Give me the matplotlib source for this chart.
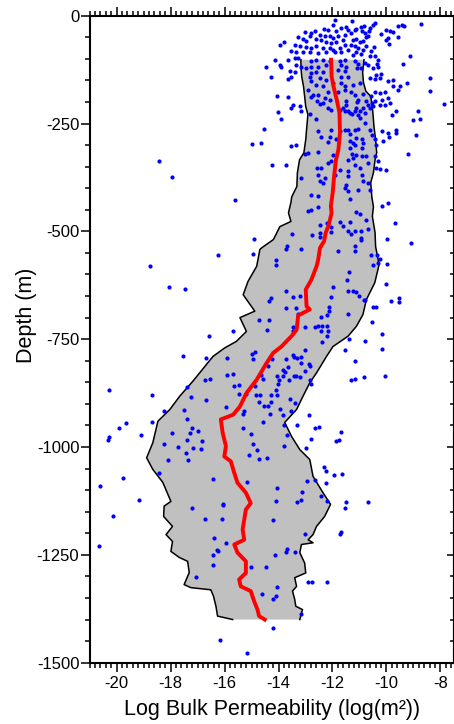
import numpy as np
import matplotlib
matplotlib.use("Agg")
import matplotlib.pyplot as plt
from matplotlib.ticker import MultipleLocator

plt.rcParams['font.family'] = ['Liberation Sans', 'DejaVu Sans']
plt.rcParams['axes.unicode_minus'] = False

# envelope of the log permeability band (left edge, right edge), depth in m
left_x = [-13.17, -13.17, -13.14, -13.07, -13.03, -12.99, -12.91, -12.95, -12.99, -13.06,
          -13.22, -13.30, -13.32, -13.51, -13.54, -13.63, -13.54, -13.95, -14.06, -14.19,
          -14.62, -14.69, -14.81, -15.13, -15.31, -14.88, -15.43, -15.19, -15.56, -15.99,
          -16.43, -16.91, -17.17, -17.66, -18.03, -18.47, -18.66, -18.89, -18.66, -18.29,
          -17.99, -18.24, -18.26, -17.93, -18.17, -17.93, -17.99, -17.68, -17.37, -17.31,
          -17.50, -17.25, -16.51, -16.41, -16.32, -16.26, -15.70]
left_d = [-102, -118, -141, -165, -188, -211, -229, -257, -287, -318,
          -334, -364, -396, -420, -433, -457, -477, -489, -503, -519,
          -538, -542, -581, -616, -647, -685, -700, -732, -755, -770,
          -790, -827, -847, -882, -913, -940, -990, -1025, -1052, -1082,
          -1126, -1137, -1161, -1184, -1203, -1219, -1242, -1256, -1265, -1291,
          -1319, -1326, -1331, -1346, -1369, -1392, -1400]

right_x = [-10.83, -10.88, -10.85, -10.76, -10.58, -10.51, -10.46, -10.40, -10.36, -10.42,
           -10.48, -10.58, -10.54, -10.48, -10.52, -10.42, -10.40, -10.27, -10.43, -10.74,
           -10.87, -11.11, -11.42, -11.98, -12.22, -12.59, -12.84, -13.09, -13.33, -13.77,
           -13.52, -13.21, -12.84, -12.72, -12.35, -12.07, -12.29, -12.59, -12.72, -12.90,
           -12.72, -13.15, -13.21, -13.03, -12.99, -13.40, -13.33, -13.48, -13.40, -13.36,
           -13.11, -13.21]
right_d = [-102, -132, -155, -175, -187, -218, -257, -287, -318, -334,
           -364, -387, -420, -443, -465, -503, -535, -577, -619, -658,
           -693, -720, -743, -767, -790, -828, -851, -882, -913, -943,
           -975, -1006, -1029, -1068, -1106, -1133, -1161, -1184, -1203, -1215,
           -1222, -1226, -1245, -1269, -1292, -1303, -1323, -1334, -1353, -1369,
           -1377, -1400]

# median
med_x = [-12.05, -12.03, -11.96, -11.84, -11.74, -11.72, -11.78, -11.87, -11.94, -11.99,
         -12.06, -12.03, -12.15, -12.25, -12.31, -12.46, -12.53, -12.59, -12.78, -12.99,
         -12.96, -12.84, -13.27, -13.33, -13.52, -13.89, -14.20, -14.44, -14.81, -15.19,
         -15.43, -15.68, -16.14, -16.07, -15.95, -16.01, -15.77, -15.64, -15.52, -15.21,
         -15.03, -15.21, -15.27, -15.33, -15.27, -15.64, -15.52, -15.21, -15.21, -15.46,
         -15.40, -15.03, -14.90, -14.78, -14.72, -14.51]
med_d = [-102, -141, -164, -195, -225, -271, -311, -334, -373, -410,
         -442, -457, -488, -503, -523, -538, -566, -581, -612, -635,
         -674, -681, -695, -728, -743, -767, -782, -805, -844, -875,
         -906, -925, -936, -967, -998, -1022, -1033, -1060, -1083, -1106,
         -1130, -1145, -1168, -1191, -1215, -1226, -1245, -1265, -1292, -1307,
         -1323, -1334, -1358, -1377, -1392, -1400]

# individual measurements (log k, depth)
samples = [
    (-11.92, -11), (-11.98, -21), (-12.31, -30), (-12.16, -33), (-11.67, -29), (-11.48, -27),
    (-11.42, -33), (-11.85, -36), (-12.66, -35), (-12.78, -40), (-13.03, -38), (-12.84, -48),
    (-12.47, -44), (-12.29, -46), (-12.10, -48), (-11.98, -52), (-11.79, -48), (-11.55, -44),
    (-13.27, -50), (-13.09, -53), (-12.97, -58), (-12.60, -53), (-12.41, -56), (-12.23, -60),
    (-12.04, -63), (-11.85, -60), (-11.61, -56), (-13.95, -67), (-13.79, -61), (-13.40, -69),
    (-13.21, -71), (-12.97, -73), (-12.78, -75), (-12.60, -71), (-12.35, -75), (-12.10, -75),
    (-11.98, -79), (-11.73, -75), (-11.55, -69), (-13.52, -81), (-13.34, -83), (-13.09, -84),
    (-12.84, -83), (-12.53, -87), (-12.23, -84), (-11.92, -84), (-11.67, -83), (-11.42, -79),
    (-14.14, -102), (-13.65, -102), (-13.40, -98), (-13.27, -97), (-12.78, -106), (-12.60, -102),
    (-12.35, -102), (-12.10, -106), (-11.73, -106), (-11.55, -102), (-13.95, -114), (-13.89, -120),
    (-13.34, -114), (-13.15, -118), (-12.97, -121), (-12.78, -120), (-12.53, -118), (-12.23, -114),
    (-11.67, -114), (-11.48, -118), (-14.48, -120), (-13.58, -128), (-13.40, -131), (-12.78, -133),
    (-12.60, -131), (-12.35, -131), (-11.79, -125), (-11.55, -129), (-14.26, -143), (-13.65, -147),
    (-13.52, -141), (-12.84, -143), (-12.47, -145), (-12.23, -148), (-11.67, -141), (-11.42, -141),
    (-12.78, -152), (-12.60, -160), (-12.35, -164), (-11.98, -156), (-11.67, -156), (-11.55, -162),
    (-12.90, -172), (-12.72, -183), (-12.53, -183), (-12.16, -176), (-11.79, -176), (-11.55, -172),
    (-14.05, -185), (-13.65, -189), (-12.78, -189), (-12.29, -191),
    (-11.26, -13), (-11.17, -33), (-11.11, -30), (-10.93, -27), (-10.84, -25), (-10.89, -35),
    (-10.80, -40), (-10.64, -35), (-10.59, -29), (-10.50, -21), (-10.43, -17), (-10.00, -33),
    (-9.88, -36), (-9.76, -38), (-9.57, -25), (-9.41, -21), (-9.36, -25), (-8.71, -19),
    (-11.30, -40), (-11.24, -56), (-11.11, -53), (-10.99, -60), (-10.87, -58), (-10.74, -50),
    (-10.68, -46), (-10.19, -43), (-10.03, -56), (-9.94, -52), (-9.90, -66), (-9.57, -50),
    (-11.30, -67), (-11.17, -71), (-11.05, -75), (-10.87, -79), (-10.74, -71), (-10.56, -81),
    (-10.47, -73), (-11.11, -83), (-11.24, -90), (-10.93, -89), (-10.62, -94), (-10.43, -94),
    (-10.31, -102), (-10.35, -112), (-9.14, -94), (-9.38, -112), (-11.17, -106), (-11.05, -112),
    (-10.80, -110), (-10.68, -114), (-10.50, -121), (-10.31, -118), (-11.09, -121), (-10.93, -121),
    (-10.37, -137), (-10.19, -135), (-10.62, -145), (-10.43, -146), (-10.25, -145), (-9.94, -151),
    (-9.76, -148), (-9.24, -156), (-9.51, -162), (-9.76, -164), (-8.40, -145), (-8.40, -174),
    (-9.57, -172), (-10.43, -177), (-10.25, -179), (-10.06, -177), (-9.94, -191), (-10.56, -187),
    (-11.24, -160), (-10.99, -156), (-11.30, -176), (-11.17, -183), (-10.87, -182), (-7.87, -204),
    (-14.01, -223), (-13.92, -239), (-14.54, -262), (-15.00, -297), (-14.65, -295), (-14.23, -345),
    (-13.73, -347), (-13.55, -301), (-13.36, -299), (-13.52, -214), (-13.46, -206), (-13.21, -210),
    (-13.15, -222), (-12.84, -229), (-12.62, -239), (-12.57, -197), (-12.47, -205), (-12.34, -202),
    (-12.10, -195), (-12.04, -218), (-12.16, -214), (-11.73, -218), (-11.60, -214), (-11.54, -222),
    (-11.50, -206), (-11.42, -220), (-11.36, -226), (-11.26, -229), (-11.17, -222), (-11.11, -214),
    (-11.05, -231), (-10.99, -237), (-10.96, -222), (-10.86, -213), (-10.80, -226), (-10.74, -197),
    (-10.68, -206), (-10.62, -214), (-10.55, -202), (-10.49, -210), (-10.43, -197), (-11.48, -197),
    (-11.05, -195), (-11.09, -200), (-10.25, -206), (-10.18, -195), (-10.06, -208), (-9.87, -202),
    (-9.81, -231), (-9.63, -222), (-9.01, -241), (-8.82, -220), (-8.76, -239), (-10.18, -268),
    (-10.12, -290), (-9.94, -272), (-9.90, -282), (-9.65, -264), (-9.63, -272), (-8.89, -276),
    (-9.20, -321), (-10.25, -355), (-10.02, -357), (-9.94, -434), (-10.15, -442), (-9.69, -481),
    (-12.53, -267), (-12.41, -282), (-12.16, -293), (-12.10, -282), (-12.04, -264), (-11.85, -285),
    (-11.73, -268), (-11.54, -264), (-11.42, -264), (-11.36, -274), (-11.17, -264), (-11.05, -262),
    (-11.14, -284), (-11.36, -291), (-11.23, -294), (-11.17, -299), (-10.92, -287), (-10.92, -307),
    (-10.86, -295), (-10.80, -249), (-10.62, -264), (-10.55, -276), (-10.43, -287), (-10.37, -299),
    (-11.36, -307), (-11.29, -321), (-11.23, -330), (-11.42, -334), (-11.17, -345), (-11.11, -324),
    (-10.92, -326), (-10.74, -325), (-10.68, -342), (-10.43, -326), (-10.31, -336), (-12.53, -316),
    (-13.02, -321), (-12.90, -318), (-11.97, -322), (-12.04, -336), (-12.59, -352), (-12.41, -353),
    (-12.16, -342), (-11.73, -357), (-11.42, -359), (-10.99, -352), (-10.92, -369), (-10.86, -383),
    (-10.68, -388), (-10.62, -403), (-10.37, -353), (-12.53, -369), (-12.47, -384), (-12.34, -388),
    (-12.28, -376), (-11.91, -369), (-11.42, -372), (-11.05, -403), (-11.48, -392), (-11.54, -400),
    (-11.42, -407), (-11.36, -424), (-12.78, -415), (-12.53, -417), (-13.15, -376), (-12.90, -452),
    (-12.78, -450), (-12.53, -444), (-12.47, -485), (-12.22, -481), (-11.73, -478), (-11.36, -478),
    (-11.11, -454), (-10.99, -460), (-10.74, -473), (-10.68, -495), (-11.60, -488), (-12.04, -491),
    (-18.44, -338), (-17.94, -375), (-15.62, -427), (-16.23, -555), (-18.75, -581), (-18.07, -630),
    (-17.47, -634), (-16.58, -742), (-15.68, -732), (-17.54, -790), (-16.69, -794), (-15.91, -794),
    (-20.27, -867), (-18.70, -880), (-17.38, -860), (-16.72, -844), (-16.53, -842), (-15.91, -833),
    (-15.67, -831), (-15.64, -858), (-15.46, -857), (-17.25, -884), (-16.67, -890), (-15.46, -877),
    (-15.21, -877), (-15.95, -907), (-15.33, -924), (-15.27, -916), (-17.51, -914), (-18.25, -917),
    (-17.41, -935), (-19.64, -945), (-18.70, -941), (-19.90, -957), (-17.22, -956), (-15.30, -957),
    (-14.92, -517), (-14.94, -552), (-13.50, -505), (-12.74, -508), (-12.47, -504), (-12.45, -513),
    (-12.06, -502), (-11.42, -500), (-11.30, -505), (-11.17, -500), (-10.95, -515), (-10.93, -521),
    (-10.93, -498), (-13.68, -535), (-13.73, -542), (-13.17, -541), (-14.08, -566), (-14.08, -577),
    (-11.79, -546), (-11.17, -546), (-11.15, -535), (-10.56, -554), (-10.35, -554), (-10.25, -564),
    (-10.31, -573), (-10.50, -577), (-9.96, -576), (-9.96, -518), (-9.10, -527), (-11.38, -595),
    (-11.45, -613), (-11.98, -630), (-11.41, -639), (-11.24, -639), (-11.11, -641), (-11.01, -651),
    (-10.83, -658), (-10.80, -660), (-10.00, -622), (-9.82, -661), (-9.53, -654), (-9.53, -664),
    (-13.71, -639), (-13.46, -652), (-13.21, -651), (-14.29, -654), (-14.35, -661), (-13.73, -678),
    (-13.34, -678), (-13.27, -691), (-12.06, -652), (-12.12, -675), (-12.12, -684), (-12.22, -693),
    (-12.42, -699), (-11.41, -691), (-10.50, -676), (-10.37, -676), (-10.55, -711), (-14.71, -705),
    (-14.36, -705), (-14.42, -729), (-13.00, -722), (-12.63, -722), (-12.52, -719), (-12.37, -720),
    (-12.20, -720), (-12.43, -730), (-12.16, -732), (-12.22, -742), (-12.38, -756), (-13.46, -722),
    (-13.48, -732), (-11.38, -750), (-10.80, -755), (-10.15, -738), (-10.16, -773), (-11.55, -776),
    (-11.17, -801), (-11.33, -844), (-11.17, -842), (-10.83, -838), (-10.05, -836), (-15.00, -784),
    (-14.89, -780), (-14.94, -797), (-14.24, -797), (-13.71, -795), (-13.46, -787), (-13.43, -792),
    (-13.31, -794), (-13.15, -792), (-13.01, -774), (-13.15, -805), (-13.64, -814), (-13.83, -821),
    (-13.77, -825), (-14.04, -835), (-13.83, -836), (-13.61, -844), (-13.42, -835), (-13.34, -836),
    (-13.21, -838), (-13.03, -823), (-12.87, -808), (-12.84, -813), (-13.98, -844), (-14.01, -853),
    (-14.08, -867), (-14.05, -879), (-14.26, -879), (-14.69, -879), (-14.82, -879), (-14.88, -858),
    (-14.57, -842), (-14.66, -834), (-14.38, -811), (-12.82, -844), (-12.78, -855), (-13.58, -889),
    (-13.40, -898), (-13.95, -912), (-13.85, -925), (-13.52, -917), (-14.26, -896), (-14.39, -906),
    (-14.32, -923), (-14.53, -904), (-14.72, -896), (-12.88, -925),
    (-19.10, -971), (-20.27, -977), (-20.33, -983), (-17.95, -967), (-17.28, -967), (-16.97, -964),
    (-17.41, -984), (-16.85, -987), (-18.26, -992), (-17.74, -1000), (-17.17, -1002), (-16.88, -1005),
    (-17.43, -1013), (-18.11, -1031), (-17.35, -1031), (-18.42, -1060), (-19.78, -1072), (-20.60, -1090),
    (-19.16, -1122), (-16.44, -1073), (-15.15, -1081), (-17.22, -1141), (-16.05, -1131), (-16.07, -1134),
    (-16.73, -1166), (-16.11, -1167), (-20.14, -1161), (-20.64, -1230), (-16.41, -1212), (-15.95, -1222),
    (-16.28, -1238), (-16.23, -1242), (-16.42, -1251), (-16.42, -1274), (-17.06, -1301), (-15.02, -1278),
    (-14.47, -1278), (-14.62, -1340), (-16.16, -1448), (-15.15, -1478), (-15.02, -969), (-14.93, -994),
    (-14.80, -1006), (-15.11, -1018), (-14.72, -1027), (-14.41, -1025), (-14.59, -943),
    (-13.80, -950), (-13.30, -948), (-12.65, -956), (-12.49, -954), (-11.69, -965), (-11.85, -985),
    (-11.76, -983), (-12.81, -981), (-13.68, -971), (-13.79, -997), (-12.99, -1002), (-12.32, -1047),
    (-12.25, -1056), (-11.94, -1066), (-11.63, -1062), (-12.63, -1077), (-12.25, -1083), (-12.96, -1079),
    (-14.05, -1095), (-13.12, -1105), (-12.44, -1114), (-12.20, -1126), (-11.51, -1128), (-10.68, -1128),
    (-11.55, -1141), (-14.10, -1124), (-13.31, -1128), (-13.18, -1122), (-14.20, -1170), (-13.00, -1201),
    (-11.73, -1201), (-11.67, -1198), (-13.67, -1236), (-13.73, -1244), (-13.37, -1244), (-14.13, -1251),
    (-12.90, -1314), (-12.75, -1314), (-12.22, -1314), (-14.07, -1325), (-14.10, -1345), (-14.22, -1352),
    (-13.17, -1386), (-14.20, -1420),
]
pts = np.array(samples)

fig = plt.figure(figsize=(4.54, 7.24), dpi=100)
ax = fig.add_axes([0.1976, 0.0847, 0.802, 0.8936])

# shaded band
ax.fill(np.concatenate([left_x, right_x[::-1]]), np.concatenate([left_d, right_d[::-1]]),
        color='#c0c0c0', lw=0, zorder=1)
ax.plot(left_x, left_d, color='black', lw=1.1, zorder=2)
ax.plot(right_x, right_d, color='black', lw=1.1, zorder=2)

ax.scatter(pts[:, 0], pts[:, 1], s=9, color='blue', linewidths=0, zorder=3)
ax.plot(med_x, med_d, color='red', lw=2.8, zorder=4)

ax.set_xlim(-21, -7.5)
ax.set_ylim(-1500, 0)
ax.xaxis.set_major_locator(MultipleLocator(2))
ax.xaxis.set_minor_locator(MultipleLocator(0.2))
ax.yaxis.set_major_locator(MultipleLocator(250))
ax.yaxis.set_minor_locator(MultipleLocator(50))

for s in ax.spines.values():
    s.set_linewidth(1.5)
ax.tick_params(axis='both', which='both', direction='out', width=1.1, labelsize=12,
               top=True, right=False)
ax.tick_params(axis='both', which='major', length=6.5)
ax.tick_params(axis='both', which='minor', length=3.5)
ax.tick_params(axis='y', pad=1)
ax.tick_params(axis='x', pad=3)

# right side ticks point inward
sec = ax.secondary_yaxis('right')
sec.yaxis.set_major_locator(MultipleLocator(250))
sec.yaxis.set_minor_locator(MultipleLocator(50))
sec.tick_params(axis='y', which='both', direction='in', labelright=False, width=1.1)
sec.tick_params(axis='y', which='major', length=5)
sec.tick_params(axis='y', which='minor', length=3)
sec.spines['right'].set_linewidth(1.5)

ax.set_xlabel('Log Bulk Permeability (log(m²))', fontsize=15.5, labelpad=6)
ax.set_ylabel('Depth (m)', fontsize=15.5)
ax.yaxis.set_label_coords(-0.146, 0.537)

fig.savefig('out.png', dpi=100)
